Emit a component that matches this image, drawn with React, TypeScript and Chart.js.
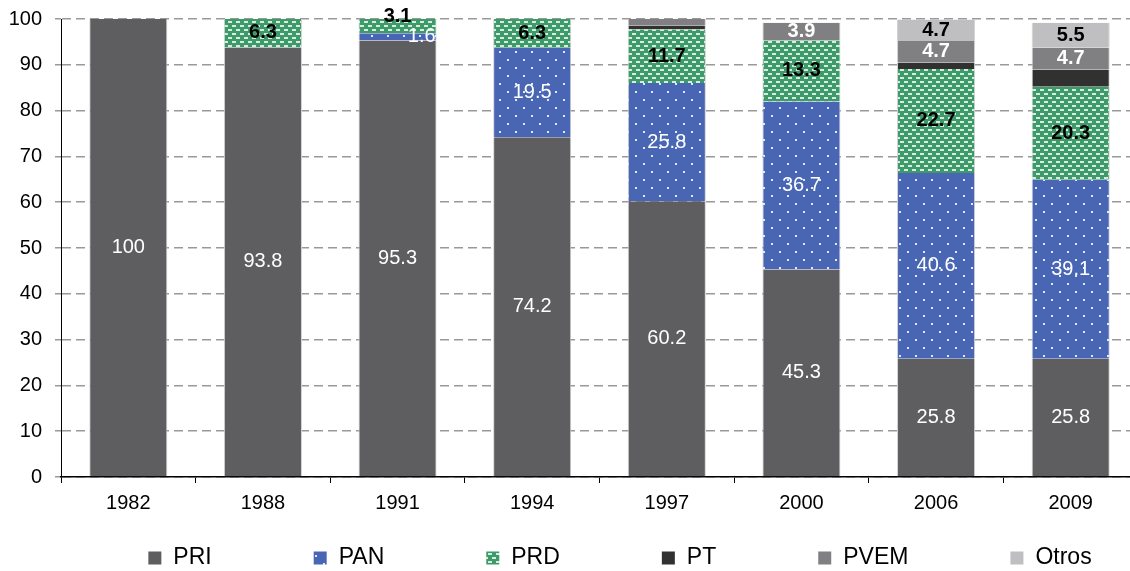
import React, { useEffect, useRef } from "react";
import { Chart, registerables } from "chart.js";

Chart.register(...registerables);

const years = ["1982", "1988", "1991", "1994", "1997", "2000", "2006", "2009"];
const pri = [100, 93.8, 95.3, 74.2, 60.2, 45.3, 25.8, 25.8];
const pan = [0, 0, 1.6, 19.5, 25.8, 36.7, 40.6, 39.1];
const prd = [0, 6.3, 3.1, 6.3, 11.7, 13.3, 22.7, 20.3];
const pt = [0, 0, 0, 0, 0.8, 0, 1.4, 3.8];
const pvem = [0, 0, 0, 0, 1.5, 3.9, 4.7, 4.7];
const otros = [0, 0, 0, 0, 0, 0, 4.7, 5.5];
const yTicks = [0, 10, 20, 30, 40, 50, 60, 70, 80, 90, 100];

const FONT = "'Liberation Sans', Arial, sans-serif";

function makeDots(): CanvasPattern | string {
  const c = document.createElement("canvas");
  c.width = 16;
  c.height = 16;
  const g = c.getContext("2d");
  if (!g) return "#4866b4";
  g.fillStyle = "#4866b4";
  g.fillRect(0, 0, 16, 16);
  g.fillStyle = "rgba(255,255,255,0.85)";
  g.fillRect(3, 3, 2, 2);
  g.fillRect(11, 11, 2, 2);
  return g.createPattern(c, "repeat") || "#4866b4";
}

function makeDashes(): CanvasPattern | string {
  const c = document.createElement("canvas");
  c.width = 8;
  c.height = 8;
  const g = c.getContext("2d");
  if (!g) return "#3d9b69";
  g.fillStyle = "#3d9b69";
  g.fillRect(0, 0, 8, 8);
  g.fillStyle = "rgba(255,255,255,0.8)";
  g.fillRect(0, 1, 4, 2);
  g.fillRect(4, 5, 4, 2);
  return g.createPattern(c, "repeat") || "#3d9b69";
}

const fmt = (v: number) => (Number.isInteger(v) ? String(v) : v.toFixed(1));

const labelPlugin = {
  id: "segLabels",
  afterDatasetsDraw(chart: any) {
    const ctx = chart.ctx;
    chart.data.datasets.forEach((ds: any, di: number) => {
      const st = ds.labelStyle;
      if (!st || !st.show) return;
      const meta = chart.getDatasetMeta(di);
      meta.data.forEach((el: any, i: number) => {
        const v = ds.data[i];
        if (!v || v < 1.55) return;
        const p = el.getProps(["x", "y", "base", "width"], true);
        const h = p.base - p.y;
        let cx = p.x;
        let cy = (p.y + p.base) / 2;
        ctx.save();
        ctx.font = `${st.bold ? "bold " : ""}20px ${FONT}`;
        ctx.fillStyle = st.color;
        ctx.textBaseline = "middle";
        ctx.textAlign = "center";
        if (h < 16) {
          if (st.small === "right") {
            ctx.textAlign = "right";
            cx = p.x + p.width / 2 - 1;
          } else if (st.small === "up") {
            cy -= 10;
          }
        }
        ctx.fillText(fmt(v), cx, cy);
        ctx.restore();
      });
    });
  },
};

const legendPlugin = {
  id: "customLegend",
  afterDraw(chart: any) {
    const ctx = chart.ctx;
    ctx.save();
    ctx.font = `23px ${FONT}`;
    const box = 13;
    const tgap = 12;
    const igap = 102;
    const items = chart.data.datasets.map((d: any) => ({
      label: d.label,
      fill: d.backgroundColor,
      w: box + tgap + ctx.measureText(d.label).width,
    }));
    const total =
      items.reduce((s: number, it: any) => s + it.w, 0) + igap * (items.length - 1);
    let x = 620 - total / 2;
    const cy = 558;
    items.forEach((it: any) => {
      ctx.fillStyle = it.fill;
      ctx.fillRect(x, cy - box / 2, box, box);
      ctx.fillStyle = "#000";
      ctx.textBaseline = "middle";
      ctx.textAlign = "left";
      ctx.fillText(it.label, x + box + tgap, cy);
      x += it.w + igap;
    });
    ctx.restore();
  },
};

export default function App() {
  const ref = useRef<HTMLCanvasElement | null>(null);

  useEffect(() => {
    if (!ref.current) return;
    const dots = makeDots();
    const dashes = makeDashes();
    const edge = { left: 1, right: 1, top: 0, bottom: 0 };
    const common = {
      barPercentage: 0.58,
      categoryPercentage: 1,
      borderWidth: edge,
      borderColor: "#d2d2d2",
      borderSkipped: false,
    };
    const chart = new Chart(ref.current, {
      type: "bar",
      data: {
        labels: years,
        datasets: [
          { label: "PRI", data: pri, backgroundColor: "#5e5e60", labelStyle: { show: true, color: "#fff", bold: false }, ...common },
          { label: "PAN", data: pan, backgroundColor: dots, labelStyle: { show: true, color: "#fff", bold: false, small: "right" }, ...common },
          { label: "PRD", data: prd, backgroundColor: dashes, labelStyle: { show: true, color: "#000", bold: true, small: "up" }, ...common },
          { label: "PT", data: pt, backgroundColor: "#313131", labelStyle: { show: false }, ...common },
          { label: "PVEM", data: pvem, backgroundColor: "#808082", labelStyle: { show: true, color: "#fff", bold: true }, ...common },
          { label: "Otros", data: otros, backgroundColor: "#bfbfc1", labelStyle: { show: true, color: "#000", bold: true }, ...common },
        ] as any,
      },
      options: {
        animation: false,
        responsive: true,
        maintainAspectRatio: false,
        layout: { padding: { top: 19, right: 12, bottom: 60, left: 0 } },
        plugins: {
          legend: { display: false },
          tooltip: { enabled: false },
        },
        scales: {
          x: {
            stacked: true,
            offset: true,
            afterFit: (s: any) => {
              s.height = 34;
              s.paddingLeft = 0;
              s.paddingRight = 0;
            },
            grid: {
              offset: true,
              drawOnChartArea: false,
              tickLength: 6,
              tickColor: "#000",
              lineWidth: 1,
            },
            border: { color: "#000", width: 1.5 },
            ticks: { color: "#000", font: { family: FONT, size: 20 }, padding: 8 },
          },
          y: {
            stacked: true,
            min: 0,
            max: 100,
            afterFit: (s: any) => {
              s.width = 61;
              s.paddingTop = 0;
              s.paddingBottom = 0;
            },
            afterBuildTicks: (s: any) => {
              s.ticks = yTicks.map((v) => ({ value: v }));
            },
            grid: {
              color: "#999",
              lineWidth: 1.5,
              tickLength: 6,
              tickColor: "#999",
              tickBorderDash: [],
            },
            border: { color: "#000", width: 1, dash: [9, 5] },
            ticks: { color: "#000", font: { family: FONT, size: 20 }, padding: 13 },
          },
        },
      },
      plugins: [labelPlugin, legendPlugin],
    } as any);
    return () => chart.destroy();
  }, []);

  return (
    <div
      style={{
        position: "absolute",
        left: 0,
        top: 0,
        width: 1130,
        height: 571,
        overflow: "hidden",
        background: "#fff",
      }}
    >
      <div style={{ position: "relative", width: 1150, height: 571 }}>
        <canvas ref={ref} />
      </div>
    </div>
  );
}
